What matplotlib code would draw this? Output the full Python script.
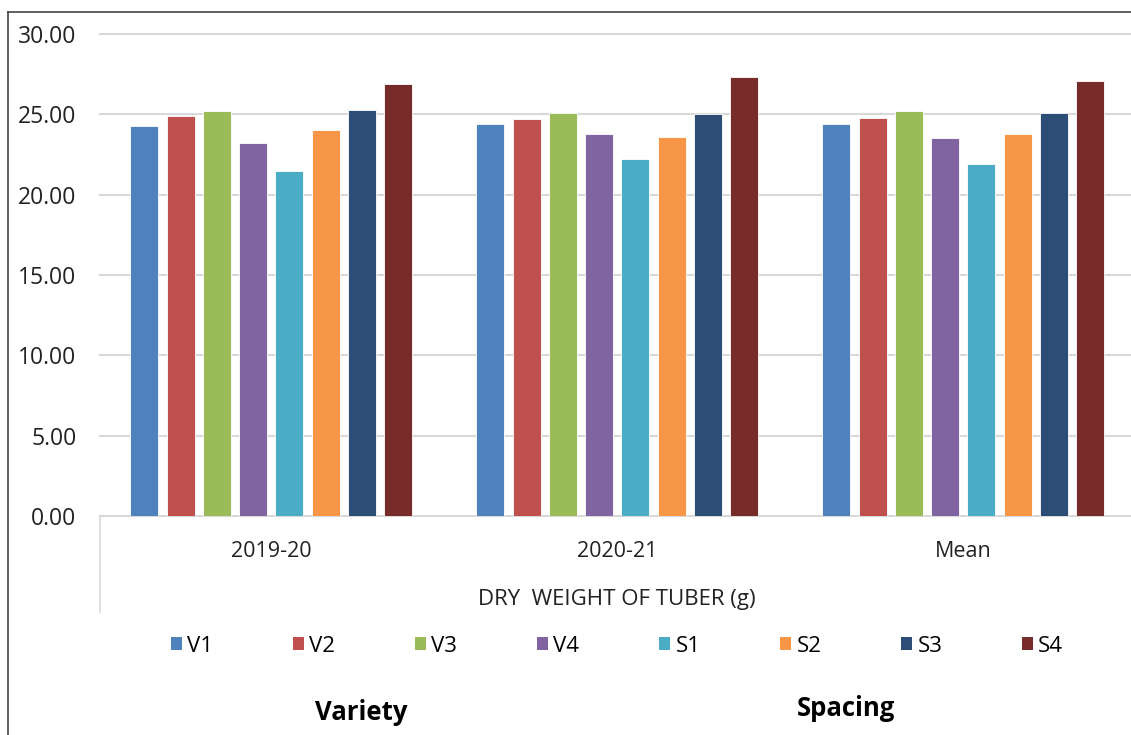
import numpy as np
import matplotlib
matplotlib.use('Agg')
from matplotlib import pyplot as plt
from matplotlib.lines import Line2D
from matplotlib.patches import Patch

categories = ['2019-20', '2020-21', 'Mean']
series_names = ['V1', 'V2', 'V3', 'V4', 'S1', 'S2', 'S3', 'S4']
values = {
    'V1': [24.3, 24.4, 24.4],
    'V2': [24.9, 24.7, 24.8],
    'V3': [25.2, 25.1, 25.2],
    'V4': [23.2, 23.8, 23.5],
    'S1': [21.5, 22.2, 21.9],
    'S2': [24.0, 23.6, 23.8],
    'S3': [25.3, 25.0, 25.1],
    'S4': [26.9, 27.3, 27.1],
}
y_ticks = [0, 5, 10, 15, 20, 25, 30]
axis_title = 'DRY  WEIGHT OF TUBER (g)'
colors = ['#4F81BD', '#C0504D', '#9BBB59', '#8064A2',
          '#4BACC6', '#F79646', '#2C4D75', '#772C2A']

plt.rcParams['font.family'] = ['Open Sans', 'DejaVu Sans']

W, H = 1131, 735
fig = plt.figure(figsize=(W / 100, H / 100), dpi=100)


def fx(px):
    return px / W


def fy(py):
    return 1 - py / H


ax = fig.add_axes([fx(100), fy(516), fx(1131 - 100), fy(34) - fy(516)])

x = np.arange(len(categories))
pitch = 0.1048
width = 0.081
for i, name in enumerate(series_names):
    offset = (i - (len(series_names) - 1) / 2) * pitch
    ax.bar(x + offset, values[name], width, color=colors[i],
           edgecolor='white', linewidth=0.6, zorder=3)

ax.set_xlim(-0.5 + 0.005, -0.5 + 0.005 + (1131 - 100) / 346)
ax.set_ylim(0, 30)
ax.set_yticks(y_ticks)
ax.set_yticklabels([f'{v:.2f}' for v in y_ticks], fontsize=16.5, color='#222222')
ax.tick_params(axis='y', length=0, pad=17)
ax.set_xticks(x)
ax.set_xticklabels(categories, fontsize=15.5, color='#222222')
ax.tick_params(axis='x', length=0, pad=18)

for v in y_ticks:
    ax.axhline(v, color='#d9d9d9', linewidth=1.5, zorder=1, clip_on=False)
for spine in ax.spines.values():
    spine.set_visible(False)

# vertical category divider on the left
fig.add_artist(Line2D([fx(100), fx(100)], [fy(516), fy(612)],
                      color='#d9d9d9', linewidth=1.2))

fig.text(fx(617), fy(599), axis_title, ha='center', va='center',
         fontsize=16, color='#222222')

handles = [Patch(facecolor=c, edgecolor='none') for c in colors]
fig.legend(handles, series_names, loc='center', ncol=8,
           bbox_to_anchor=(fx(617), fy(646)), frameon=False,
           fontsize=16, handlelength=0.5, handleheight=0.5,
           handletextpad=0.25, columnspacing=3.57)

fig.text(fx(361), fy(712), 'Variety', ha='center', va='center',
         fontsize=18.5, fontweight='bold', color='black')
fig.text(fx(846), fy(709), 'Spacing', ha='center', va='center',
         fontsize=18.5, fontweight='bold', color='black')

# outer frame
fig.add_artist(Line2D([fx(8), fx(1131)], [fy(12), fy(12)], color='#444444', linewidth=1.2))
fig.add_artist(Line2D([fx(8), fx(8)], [fy(12), fy(735)], color='#444444', linewidth=1.2))

fig.savefig('out.png', dpi=100)
